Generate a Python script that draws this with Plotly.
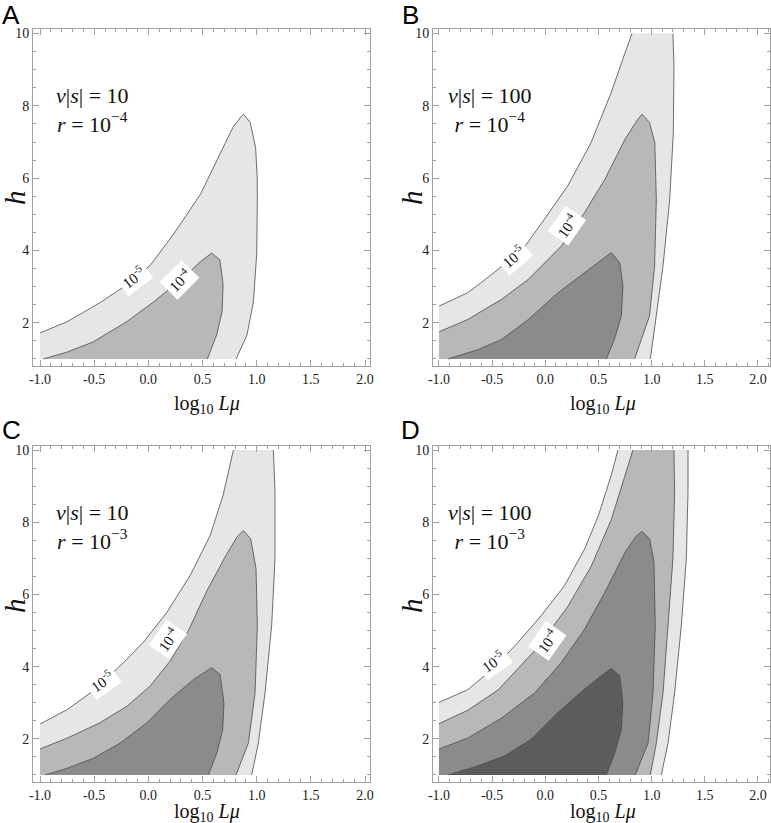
import plotly.graph_objects as go

# ---------------- data (contour boundaries) ----------------
# Panel A: nu|s| = 10, r = 1e-4
A_c5_x = [-1.0, -0.75, -0.45, -0.2, 0.02, 0.23, 0.48, 0.63, 0.78, 0.86, 0.88, 0.94, 0.99, 1.005, 1.006, 1.0, 0.97, 0.91, 0.81]
A_c5_y = [1.72, 2.03, 2.55, 3.05, 3.6, 4.44, 5.55, 6.47, 7.4, 7.72, 7.77, 7.54, 6.84, 6.0, 5.36, 3.9, 2.58, 1.66, 1.0]
A_c4_x = [-0.97, -0.75, -0.51, -0.2, 0.05, 0.2, 0.35, 0.48, 0.585, 0.66, 0.69, 0.68, 0.63, 0.545]
A_c4_y = [1.0, 1.19, 1.47, 2.03, 2.58, 2.95, 3.32, 3.69, 3.93, 3.74, 3.05, 2.3, 1.66, 1.0]

# Panel B: nu|s| = 100, r = 1e-4
B_c5_x = [-1.0, -0.73, -0.48, -0.19, -0.01, 0.21, 0.43, 0.62, 0.75, 0.815, 1.2, 1.21, 1.204, 1.17, 1.107, 1.044, 0.988]
B_c5_y = [2.46, 2.83, 3.39, 4.12, 4.86, 5.78, 6.98, 8.37, 9.47, 10.0, 10.0, 9.1, 7.26, 5.42, 3.57, 2.19, 1.0]
B_c4_x = [-1.0, -0.73, -0.41, -0.16, 0.15, 0.37, 0.56, 0.75, 0.87, 0.91, 0.98, 1.03, 1.044, 1.028, 0.98, 0.84]
B_c4_y = [1.75, 2.09, 2.65, 3.2, 4.12, 5.05, 5.97, 7.08, 7.63, 7.77, 7.54, 6.98, 5.42, 3.57, 2.19, 1.0]
B_c3_x = [-0.915, -0.63, -0.41, -0.16, 0.12, 0.37, 0.53, 0.62, 0.7, 0.73, 0.715, 0.65, 0.574]
B_c3_y = [1.0, 1.26, 1.54, 2.09, 2.83, 3.39, 3.75, 3.94, 3.66, 3.02, 2.19, 1.54, 1.0]

# Panel C: nu|s| = 10, r = 1e-3
C_c5_x = [-1.0, -0.75, -0.5, -0.23, -0.05, 0.17, 0.385, 0.57, 0.69, 0.785, 1.154, 1.169, 1.169, 1.138, 1.077, 1.015, 0.954]
C_c5_y = [2.41, 2.81, 3.35, 4.11, 4.66, 5.5, 6.52, 7.63, 8.75, 10.0, 10.0, 8.84, 6.98, 5.13, 3.27, 1.88, 1.0]
C_c4_x = [-1.0, -0.75, -0.45, -0.2, 0.015, 0.2, 0.37, 0.54, 0.72, 0.82, 0.877, 0.945, 0.994, 1.006, 0.985, 0.923, 0.809]
C_c4_y = [1.72, 2.02, 2.44, 2.9, 3.46, 4.15, 5.0, 6.1, 7.1, 7.6, 7.77, 7.54, 6.71, 5.13, 3.27, 1.88, 1.0]
C_c3_x = [-0.954, -0.754, -0.508, -0.262, -0.015, 0.2, 0.415, 0.585, 0.662, 0.698, 0.686, 0.631, 0.554]
C_c3_y = [1.0, 1.18, 1.46, 1.88, 2.44, 3.09, 3.64, 3.97, 3.78, 2.99, 2.25, 1.6, 1.0]

# Panel D: nu|s| = 100, r = 1e-3
D_c5_x = [-1.0, -0.73, -0.49, -0.26, -0.04, 0.18, 0.37, 0.5, 0.62, 0.683, 1.342, 1.342, 1.326, 1.279, 1.216, 1.154, 1.091]
D_c5_y = [3.01, 3.36, 3.95, 4.66, 5.41, 6.24, 7.26, 8.19, 9.3, 10.0, 10.0, 8.84, 6.98, 5.13, 3.27, 1.88, 1.0]
D_c4_x = [-1.0, -0.73, -0.445, -0.26, -0.07, 0.21, 0.43, 0.62, 0.746, 0.824, 1.21, 1.216, 1.2, 1.154, 1.107, 1.044, 0.987]
D_c4_y = [2.42, 2.79, 3.35, 3.93, 4.54, 5.66, 6.77, 8.07, 9.28, 10.0, 10.0, 8.84, 6.98, 5.13, 3.27, 1.88, 1.0]
D_c3_x = [-1.0, -0.73, -0.41, -0.1, 0.15, 0.37, 0.56, 0.75, 0.85, 0.909, 0.981, 1.022, 1.034, 1.013, 0.966, 0.846]
D_c3_y = [1.72, 2.02, 2.58, 3.27, 4.11, 5.04, 6.06, 7.17, 7.6, 7.75, 7.54, 6.89, 5.13, 3.27, 1.88, 1.0]
D_c2_x = [-0.915, -0.633, -0.382, -0.132, 0.119, 0.37, 0.527, 0.621, 0.7, 0.73, 0.715, 0.652, 0.574]
D_c2_y = [1.0, 1.25, 1.53, 1.99, 2.73, 3.38, 3.75, 3.95, 3.75, 3.0, 2.25, 1.6, 1.0]

panel_letters = ["A", "B", "C", "D"]
panel_nus = ["10", "100", "10", "100"]
panel_rs = ["−4", "−4", "−3", "−3"]
contour_label_texts = ["10<sup>-5</sup>", "10<sup>-4</sup>"]

# label positions (data coords) and angles per panel: [(x5, y5, ang5), (x4, y4, ang4)]
A_labels = [(-0.14, 3.28, -37), (0.29, 3.17, -45)]
B_labels = [(-0.30, 3.85, -40), (0.20, 4.68, -55)]
C_labels = [(-0.43, 3.60, -35), (0.185, 4.76, -55)]
D_labels = [(-0.49, 4.15, -35), (0.016, 4.72, -55)]

x_tickvals = [-1.0, -0.5, 0.0, 0.5, 1.0, 1.5, 2.0]
x_ticktext = ["-1.0", "-0.5", "0.0", "0.5", "1.0", "1.5", "2.0"]
y_tickvals = [2, 4, 6, 8, 10]

# ---------------- styling ----------------
fills = ["#e6e6e6", "#b8b8b8", "#8b8b8b", "#5c5c5c"]
line_col = "#4a4a4a"
frame_col = "#a0a0a0"
serif = "Liberation Serif, Times New Roman, DejaVu Serif, serif"

W, H = 771, 823
# pixel boxes of the four frames: (left, right, top, bottom)
boxes = [(33, 370, 29, 366), (433, 770, 29, 366), (33, 370, 445.5, 782), (433, 770, 445.5, 782)]
x_ranges = [[-1.065, 2.046], [-1.056, 2.113], [-1.065, 2.046], [-1.056, 2.113]]
YR = [0.805, 10.125]

panels = [
    ([(A_c5_x, A_c5_y), (A_c4_x, A_c4_y)], A_labels),
    ([(B_c5_x, B_c5_y), (B_c4_x, B_c4_y), (B_c3_x, B_c3_y)], B_labels),
    ([(C_c5_x, C_c5_y), (C_c4_x, C_c4_y), (C_c3_x, C_c3_y)], C_labels),
    ([(D_c5_x, D_c5_y), (D_c4_x, D_c4_y), (D_c3_x, D_c3_y), (D_c2_x, D_c2_y)], D_labels),
]


def fill_poly(xs, ys):
    px, py = list(xs), list(ys)
    if px[0] == -1.0 and py[0] > 1.0:
        px.append(-1.0)
        py.append(1.0)
    return px, py


def contour_line(xs, ys):
    lx, ly = [], []
    for i in range(len(xs)):
        lx.append(xs[i])
        ly.append(ys[i])
        if i + 1 < len(xs) and ys[i] == 10.0 and ys[i + 1] == 10.0:
            lx.append(None)
            ly.append(None)
    return lx, ly


fig = go.Figure()
annotations = []

for k, (curves, labels) in enumerate(panels):
    sfx = "" if k == 0 else str(k + 1)
    xa, ya = "x" + sfx, "y" + sfx
    for j, (cx, cy) in enumerate(curves):
        fx, fy = fill_poly(cx, cy)
        fig.add_trace(go.Scatter(x=fx, y=fy, xaxis=xa, yaxis=ya, mode="lines",
                                 fill="toself", fillcolor=fills[j],
                                 line=dict(width=0, color=fills[j]), hoverinfo="skip"))
    for j, (cx, cy) in enumerate(curves):
        lx, ly = contour_line(cx, cy)
        fig.add_trace(go.Scatter(x=lx, y=ly, xaxis=xa, yaxis=ya, mode="lines",
                                 line=dict(width=0.8, color=line_col), connectgaps=False,
                                 hoverinfo="skip"))
    # contour labels
    for (lxp, lyp, ang), txt in zip(labels, contour_label_texts):
        annotations.append(dict(x=lxp, y=lyp, xref=xa, yref=ya, text=txt, showarrow=False,
                                xanchor="center", yanchor="middle",
                                textangle=ang, bgcolor="white", borderpad=3,
                                font=dict(family=serif, size=15, color="#111")))
    # parameter text
    annotations.append(dict(x=-0.52, y=7.88, xref=xa, yref=ya, showarrow=False, align="center",
                            xanchor="center", yanchor="middle",
                            text="<i>ν</i>|<i>s</i>| = " + panel_nus[k] + "<br><i>r</i> = 10<sup>" + panel_rs[k] + "</sup>",
                            font=dict(family=serif, size=22, color="#111")))

    l, r, t, b = boxes[k]
    dom_x = [l / W, r / W]
    dom_y = [1 - b / H, 1 - t / H]
    axis_common = dict(showline=True, linecolor=frame_col, linewidth=1, mirror="ticks",
                       ticks="inside", tickcolor=frame_col, showgrid=False, zeroline=False,
                       ticklabeloverflow="allow",
                       tickfont=dict(family=serif, size=14, color="#222"), automargin=False)
    fig.update_layout(**{
        "xaxis" + sfx: dict(domain=dom_x, range=x_ranges[k], anchor=ya, tickvals=x_tickvals,
                            ticktext=x_ticktext, ticklen=6,
                            minor=dict(dtick=0.1, tick0=0, ticklen=3, ticks="inside",
                                       tickcolor=frame_col, showgrid=False),
                            **axis_common),
        "yaxis" + sfx: dict(domain=dom_y, range=YR, anchor=xa, tickvals=y_tickvals,
                            ticklen=6, minor=dict(dtick=0.5, tick0=0, ticklen=3, ticks="inside",
                                                  tickcolor=frame_col, showgrid=False),
                            **axis_common),
    })

    # panel letter
    lx0 = 11 if k % 2 == 0 else 410
    ly0 = 15 if k < 2 else 430
    annotations.append(dict(x=lx0 / W, y=1 - ly0 / H, xref="paper", yref="paper", text=panel_letters[k],
                            showarrow=False, xanchor="center", yanchor="middle",
                            font=dict(family="Liberation Sans, Arial, sans-serif", size=26, color="black")))
    # axis titles
    cx_t = 207 if k % 2 == 0 else 603
    cy_t = 404 if k < 2 else 812
    annotations.append(dict(x=cx_t / W, y=1 - cy_t / H, xref="paper", yref="paper",
                            text="log<sub>10</sub> <i>Lμ</i>", showarrow=False,
                            xanchor="center", yanchor="middle",
                            font=dict(family=serif, size=20, color="#111")))
    hx = 15 if k % 2 == 0 else 412
    hy = 198 if k < 2 else 606
    annotations.append(dict(x=hx / W, y=1 - hy / H, xref="paper", yref="paper", text="<i>h</i>",
                            showarrow=False, textangle=-90, xanchor="center", yanchor="middle",
                            font=dict(family=serif, size=29, color="#111")))

fig.update_layout(width=W, height=H, margin=dict(l=0, r=0, t=0, b=0), template="none",
                  paper_bgcolor="white", plot_bgcolor="white", showlegend=False,
                  annotations=annotations)

fig.write_html("out.html", config={"displayModeBar": False},
               post_script="document.body.style.margin='0';document.body.style.padding='0';")
